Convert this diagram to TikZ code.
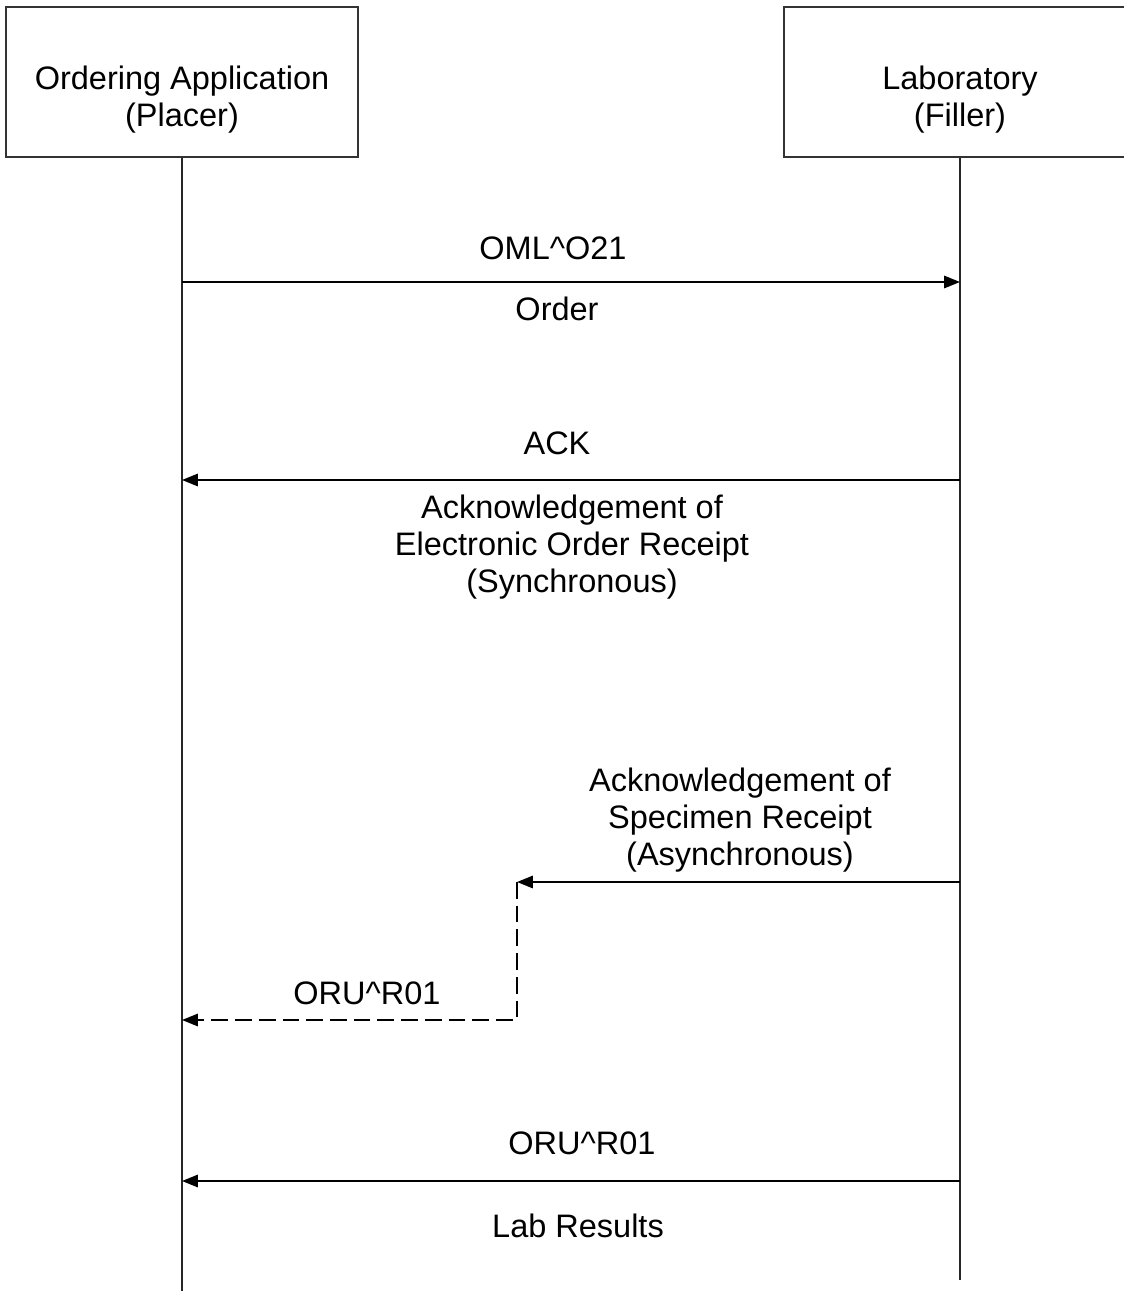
\documentclass[tikz,border=0pt]{standalone}
\usepackage{fontspec}
\setmainfont{Liberation Sans}
\usetikzlibrary{arrows.meta}

\begin{document}
\begin{tikzpicture}[
  x=0.02cm, y=-0.02cm,
  >={Triangle[length=9pt,width=7pt]},
  actor/.style={draw=black!80, line width=1pt, minimum width=7.04cm, inner sep=0pt,
    text height=2.40cm, text depth=0.60cm, align=center, anchor=north,
    font=\fontsize{18.5}{21.5}\selectfont},
  lifeline/.style={draw=black!85, line width=1.1pt},
  msg/.style={->, line width=1.1pt},
  reply/.style={->, line width=1.1pt, dash pattern=on 9.5pt off 4pt},
  txt/.style={anchor=base, align=center, inner sep=0pt, font=\fontsize{18.5}{20.8}\selectfont}
]
  \useasboundingbox (0,0) rectangle (1124,1291);

  % participants
  \node[actor] (placer) at (182,6) {Ordering Application\\(Placer)};
  \node[actor] (filler) at (960,6) {Laboratory\\(Filler)};
  \coordinate (placer end) at (182,1291);
  \coordinate (filler end) at (960,1280);
  \draw[lifeline] (placer.south) -- (placer end);
  \draw[lifeline] (filler.south) -- (filler end);

  % points on the lifelines
  \coordinate (p order) at (182,282);
  \coordinate (f order) at (960,282);
  \coordinate (p ack) at (182,480);
  \coordinate (f ack) at (960,480);
  \coordinate (f spec) at (960,882);
  \coordinate (turn top) at (517,882);
  \coordinate (turn bottom) at (517,1020);
  \coordinate (p spec) at (182,1020);
  \coordinate (p result) at (182,1181);
  \coordinate (f result) at (960,1181);

  % messages
  \draw[msg] (p order) -- (f order);
  \draw[msg] (f ack) -- (p ack);
  \draw[msg] (f spec) -- (turn top);
  \draw[reply] (turn top) -- (turn bottom) -- (p spec);
  \draw[msg] (f result) -- (p result);

  % labels (base = last line)
  \node[txt] (oml) at (553,259) {OML\textasciicircum O21};
  \node[txt] (order) at (557,320) {Order};
  \node[txt] (ack) at (557,454) {ACK};
  \node[txt] (ack text) at (572,592) {Acknowledgement of\\Electronic Order Receipt\\(Synchronous)};
  \node[txt] (spec text) at (740,865) {Acknowledgement of\\Specimen Receipt\\(Asynchronous)};
  \node[txt] (oru spec) at (367,1004) {ORU\textasciicircum R01};
  \node[txt] (oru) at (582,1154) {ORU\textasciicircum R01};
  \node[txt] (results) at (578,1237) {Lab Results};
\end{tikzpicture}
\end{document}
